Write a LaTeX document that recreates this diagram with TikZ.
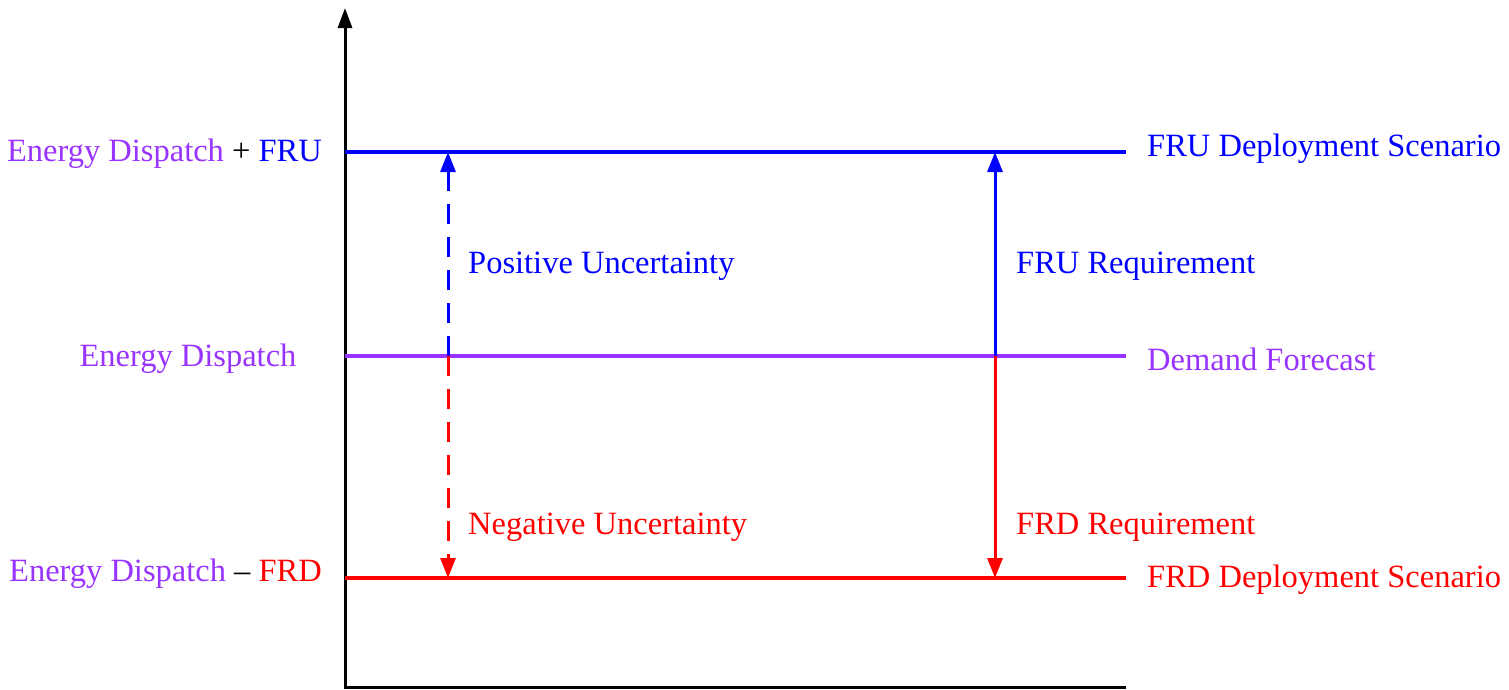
\documentclass[tikz,border=0pt]{standalone}
\usepackage{fontspec}
\setmainfont{Liberation Serif}
\usetikzlibrary{arrows.meta}
\definecolor{pur}{RGB}{153,51,255}
\definecolor{bl}{RGB}{0,0,255}
\definecolor{rd}{RGB}{255,0,0}
\tikzset{
  lbl/.style={font=\fontsize{32.5}{36}\selectfont, inner sep=0pt},
  lvl/.style={line width=3.5pt},
  axis/.style={line width=3pt, black},
  tip/.style={-{Triangle[length=20pt,width=15pt]}},
  dsh/.style={dash pattern=on 20pt off 13pt},
}
\begin{document}
\begin{tikzpicture}[x=1pt,y=-1pt]
\useasboundingbox (0,0) rectangle (1509,689);
% axes
\coordinate (o) at (345,687);
\coordinate (top) at (345,8);
\coordinate (xe) at (1126,687);
\draw[axis, -{Triangle[length=20pt,width=14pt]}] (o) -- (top);
\draw[axis] ([xshift=-1.5pt]o) -- (xe);
% levels
\coordinate (bL) at (345,152); \coordinate (bR) at (1126,152);
\coordinate (pL) at (345,356); \coordinate (pR) at (1126,356);
\coordinate (rL) at (345,578); \coordinate (rR) at (1126,578);
\draw[lvl, bl] (bL) -- (bR);
\draw[lvl, pur] (pL) -- (pR);
\draw[lvl, rd] (rL) -- (rR);
% arrows
\coordinate (d0) at (448,356); \coordinate (d1) at (448,152); \coordinate (d2) at (448,578);
\coordinate (s0) at (995,356); \coordinate (s1) at (995,152); \coordinate (s2) at (995,578);
\draw[lvl, line width=3pt, bl, dsh, tip] (d0) -- (d1);
\draw[lvl, line width=3pt, rd, dsh, tip] (d0) -- (d2);
\draw[lvl, line width=3pt, bl, tip] (s0) -- (s1);
\draw[lvl, line width=3pt, rd, tip] (s0) -- (s2);
% left labels
\node[lbl, anchor=east] (l1) at (322,154) {\color{pur}Energy Dispatch \color{black}+ \color{bl}FRU};
\node[lbl] (l2) at (188,359) {\color{pur}Energy Dispatch};
\node[lbl, anchor=east] (l3) at (322,574) {\color{pur}Energy Dispatch \color{black}– \color{rd}FRD};
% right labels
\node[lbl, anchor=west, text=bl] (r1) at (1147,149) {FRU Deployment Scenario};
\node[lbl, anchor=west, text=pur] (r2) at (1147,359) {Demand Forecast};
\node[lbl, anchor=west, text=rd] (r3) at (1147,580) {FRD Deployment Scenario};
% middle labels
\node[lbl, anchor=west, text=bl] (m1) at (468,266) {Positive Uncertainty};
\node[lbl, anchor=west, text=rd] (m2) at (468,527) {Negative Uncertainty};
\node[lbl, anchor=west, text=bl] (m3) at (1016,266) {FRU Requirement};
\node[lbl, anchor=west, text=rd] (m4) at (1016,527) {FRD Requirement};
\end{tikzpicture}
\end{document}
